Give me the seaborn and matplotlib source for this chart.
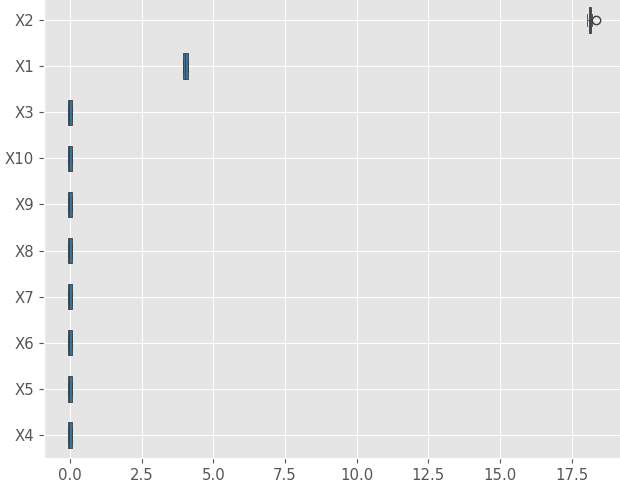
import numpy as np
import pandas as pd
import matplotlib
matplotlib.use("Agg")
import matplotlib.pyplot as plt
import seaborn as sns

plt.style.use("ggplot")

# variable order (top to bottom)
order = ["X2", "X1", "X3", "X10", "X9", "X8", "X7", "X6", "X5", "X4"]

x2 = [18.03, 18.09, 18.12, 18.15, 18.20, 18.36]
x1 = [3.96, 3.96, 3.96, 4.03, 4.12, 4.12, 4.12]
x3 = [-0.08, -0.08, -0.08, -0.02, 0.09, 0.09, 0.09]
x4 = [-0.08, -0.08, -0.08, -0.02, 0.09, 0.09, 0.09]
x5 = [-0.08, -0.08, -0.08, -0.02, 0.09, 0.09, 0.09]
x6 = [-0.08, -0.08, -0.08, -0.02, 0.09, 0.09, 0.09]
x7 = [-0.08, -0.08, -0.08, -0.02, 0.09, 0.09, 0.09]
x8 = [-0.08, -0.08, -0.08, -0.02, 0.09, 0.09, 0.09]
x9 = [-0.08, -0.08, -0.08, -0.02, 0.09, 0.09, 0.09]
x10 = [-0.08, -0.08, -0.08, -0.02, 0.09, 0.09, 0.09]

cols = {"X1": x1, "X2": x2, "X3": x3, "X4": x4, "X5": x5,
        "X6": x6, "X7": x7, "X8": x8, "X9": x9, "X10": x10}
frames = [pd.DataFrame({"var": k, "value": v}) for k, v in cols.items()]
df = pd.concat(frames, ignore_index=True)

fig = plt.figure(figsize=(6.2, 4.84), dpi=100)
# axes slightly larger than the figure, like a tight-cropped original
ax = fig.add_axes([44 / 620, 26 / 484, 588 / 620, 461 / 484])

sns.boxplot(data=df, x="value", y="var", order=order, orient="h",
            color="#1f77b4", width=0.55, linewidth=0.6, ax=ax)

ax.set_xlim(-0.9, 19.6)
ax.set_xlabel("")
ax.set_ylabel("")
ax.yaxis.grid(True)
ax.xaxis.grid(True)
ax.tick_params(labelsize=10.7)

fig.savefig("out.png", dpi=100)
